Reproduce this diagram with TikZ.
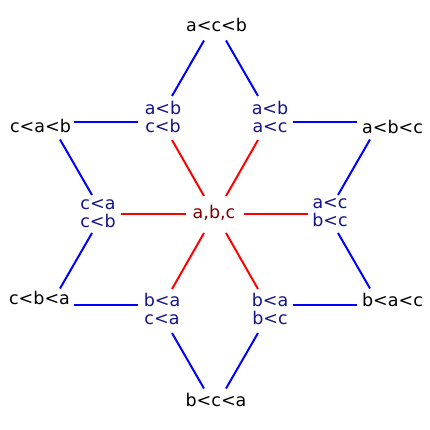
\documentclass[tikz,border=0pt]{standalone}
\usepackage{fontspec}
\setmainfont{DejaVu Sans}

\definecolor{pairtext}{RGB}{20,20,135}
\definecolor{roottext}{RGB}{128,0,0}

\tikzset{
  order/.style={text=black},
  pair/.style={text=pairtext, align=center},
  root/.style={text=roottext},
  blueline/.style={blue, line width=2pt},
  redline/.style={red, line width=2pt}
}

\begin{document}
\begin{tikzpicture}[x=1pt, y=-1pt, every node/.style={font=\fontsize{17.5}{18}\selectfont, inner sep=0pt}]
\useasboundingbox (0,0) rectangle (430,430);
% total orders
\node[order] (acb) at (216.5,25) {a<c<b};
\node[order] (cab) at (40.5,125.5) {c<a<b};
\node[order] (abc) at (392.5,126.5) {a<b<c};
\node[order] (cba) at (39.5,298) {c<b<a};
\node[order] (bac) at (392.5,300) {b<a<c};
\node[order] (bca) at (216,400) {b<c<a};
% two relations
\node[pair] (abcb) at (163,117) {a<b\\c<b};
\node[pair] (abac) at (270,117) {a<b\\a<c};
\node[pair] (cacb) at (98,214) {c<a\\c<b};
\node[pair] (acbc) at (330,213) {a<c\\b<c};
\node[pair] (baca) at (162,309) {b<a\\c<a};
\node[pair] (babc) at (270,309) {b<a\\b<c};
% no relation
\node[root] (unord) at (214,213) {a,b,c};

\foreach \a/\ax/\ay/\b/\bx/\by in {acb/-12.5/15.5/abcb/9/-21, acb/9.5/15.5/abac/-12/-21,
  cab/19.5/14/cacb/-6/-19, cacb/-6/19/cba/20.5/-9.5,
  abc/-22.5/13/acbc/8/-18, acbc/8/20/bac/-22.5/-11.5,
  baca/10/24/bca/-12/-11.5, babc/-12/24/bca/10/-11.5,
  cab/33/-3.2/abcb/-25.5/5.3, abac/22.5/5.3/abc/-35.5/-4.2,
  cba/34/6.5/baca/-24.5/-4.5, babc/22.5/-4.5/bac/-35.5/4.5}
  \draw[blueline] ([shift={(\ax,\ay)}]\a.center) -- ([shift={(\bx,\by)}]\b.center);

\foreach \a/\ax/\ay/\b/\bx/\by in {abcb/9/23/unord/-10/-17, abac/-12/23/unord/12/-17,
  unord/-10/20/baca/10/-20, unord/12/20/babc/-12/-20,
  cacb/23/0.3/unord/-28.5/1.3, unord/29.5/1.3/acbc/-22/1.3}
  \draw[redline] ([shift={(\ax,\ay)}]\a.center) -- ([shift={(\bx,\by)}]\b.center);
\end{tikzpicture}
\end{document}
